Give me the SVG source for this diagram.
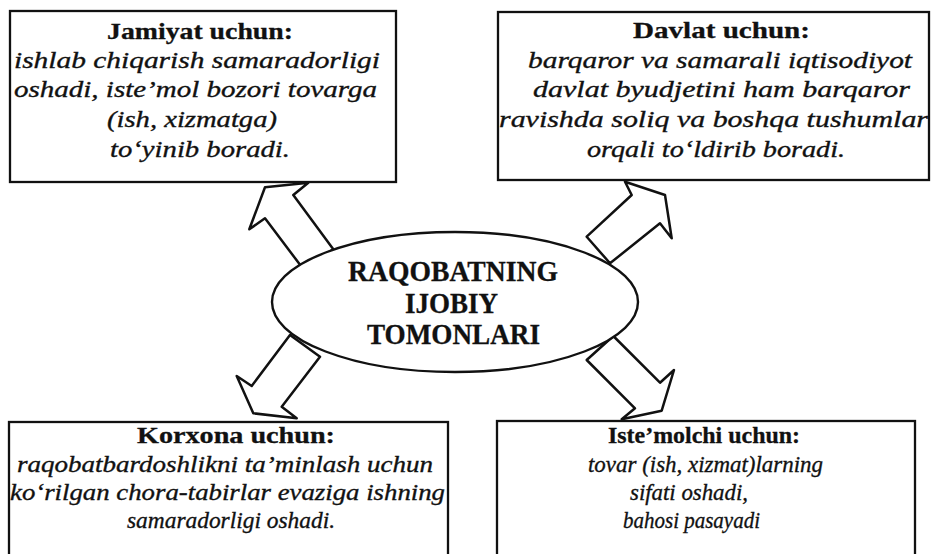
<svg xmlns="http://www.w3.org/2000/svg" width="931" height="554" viewBox="0 0 931 554">
  <style>
    .box { fill: #ffffff; stroke: #111111; stroke-width: 2.3; }
    .arrow { fill: #ffffff; stroke: #111111; stroke-width: 2.5; stroke-linejoin: round; }
    .ell { fill: #ffffff; stroke: #111111; stroke-width: 2.4; }
    .title { font-family: "Liberation Serif", "Times New Roman", serif; font-weight: bold; font-size: 23px; fill: #111111; stroke: #111111; stroke-width: 0.3; text-anchor: middle; }
    .body { font-family: "Liberation Serif", "Times New Roman", serif; font-style: italic; font-size: 24px; fill: #111111; stroke: #111111; stroke-width: 0.35; text-anchor: middle; }
    .center { font-family: "Liberation Serif", "Times New Roman", serif; font-weight: bold; font-size: 29px; fill: #111111; stroke: #111111; stroke-width: 0.3; text-anchor: middle; }
  </style>
  <rect x="0" y="0" width="931" height="554" fill="#ffffff"/>

  <g id="connectors">
    <polygon class="arrow" points="302.7,268.3 265,218.3 249.3,229.3 265,187.3 308.3,182.7 293.3,195 333.3,249.3"/>
    <polygon class="arrow" points="586.7,236.7 631.7,195 625,181.7 665,195 671.7,238.3 660,223.3 610,263.3"/>
    <polygon class="arrow" points="290,335 251.7,386 236.7,376 253.3,413.3 296.7,418.3 281.7,406.7 320,356.7"/>
    <polygon class="arrow" points="613.3,336 660,382.7 674,370 661.7,410.7 621.7,419.3 635,408.3 586.7,360"/>
  </g>

  <g id="node-center">
    <ellipse class="ell" cx="455" cy="302" rx="183" ry="70"/>
    <text class="center" x="453" y="281" textLength="210" lengthAdjust="spacingAndGlyphs">RAQOBATNING</text>
    <text class="center" x="451.5" y="313" textLength="93" lengthAdjust="spacingAndGlyphs">IJOBIY</text>
    <text class="center" x="453.5" y="344" textLength="173" lengthAdjust="spacingAndGlyphs">TOMONLARI</text>
  </g>

  <g id="node-jamiyat">
    <rect class="box" x="10" y="11" width="386" height="171"/>
    <text class="title" x="200" y="39" textLength="186" lengthAdjust="spacingAndGlyphs">Jamiyat uchun:</text>
    <text class="body" x="197" y="68" textLength="366" lengthAdjust="spacingAndGlyphs">ishlab  chiqarish  samaradorligi</text>
    <text class="body" x="195.5" y="97" textLength="363" lengthAdjust="spacingAndGlyphs">oshadi,  iste’mol  bozori  tovarga</text>
    <text class="body" x="192" y="127" textLength="170" lengthAdjust="spacingAndGlyphs">(ish,  xizmatga)</text>
    <text class="body" x="200" y="157" textLength="180" lengthAdjust="spacingAndGlyphs">to‘yinib boradi.</text>
  </g>

  <g id="node-davlat">
    <rect class="box" x="498" y="12" width="431" height="168"/>
    <text class="title" x="721.5" y="38" textLength="177" lengthAdjust="spacingAndGlyphs">Davlat uchun:</text>
    <text class="body" x="720" y="68" textLength="384" lengthAdjust="spacingAndGlyphs">barqaror  va  samarali  iqtisodiyot</text>
    <text class="body" x="721.5" y="97" textLength="377" lengthAdjust="spacingAndGlyphs">davlat  byudjetini  ham  barqaror</text>
    <text class="body" x="713.5" y="127" textLength="429" lengthAdjust="spacingAndGlyphs">ravishda  soliq  va  boshqa  tushumlar</text>
    <text class="body" x="716" y="157" textLength="258" lengthAdjust="spacingAndGlyphs">orqali to‘ldirib boradi.</text>
  </g>

  <g id="node-korxona">
    <rect class="box" x="9" y="422" width="439" height="145"/>
    <text class="title" x="236" y="443" textLength="198" lengthAdjust="spacingAndGlyphs">Korxona  uchun:</text>
    <text class="body" x="225" y="472" textLength="416" lengthAdjust="spacingAndGlyphs">raqobatbardoshlikni ta’minlash uchun</text>
    <text class="body" x="227.5" y="500" textLength="435" lengthAdjust="spacingAndGlyphs">ko‘rilgan chora-tabirlar evaziga ishning</text>
    <text class="body" x="231" y="528" textLength="208" lengthAdjust="spacingAndGlyphs">samaradorligi oshadi.</text>
  </g>

  <g id="node-istemolchi">
    <rect class="box" x="497" y="421" width="418" height="146"/>
    <text class="title" x="704" y="443" textLength="192" lengthAdjust="spacingAndGlyphs">Iste’molchi  uchun:</text>
    <text class="body" x="705.5" y="472" textLength="235" lengthAdjust="spacingAndGlyphs">tovar (ish, xizmat)larning</text>
    <text class="body" x="689" y="500" textLength="118" lengthAdjust="spacingAndGlyphs">sifati oshadi,</text>
    <text class="body" x="691.5" y="528" textLength="137" lengthAdjust="spacingAndGlyphs">bahosi  pasayadi</text>
  </g>
</svg>
